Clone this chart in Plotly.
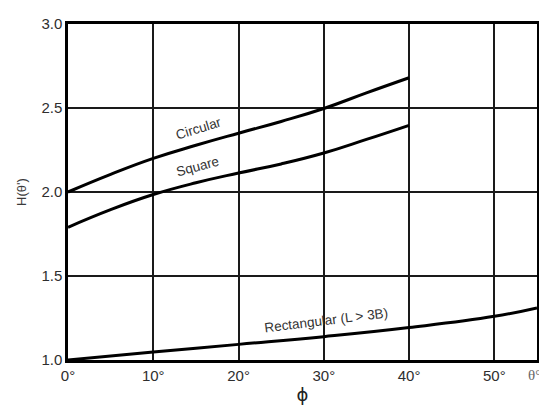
import plotly.graph_objects as go

# Data
phi = [0, 5, 10, 15, 20, 25, 30, 35, 40]
circular = [2.00, 2.105, 2.20, 2.278, 2.35, 2.42, 2.497, 2.59, 2.68]
square = [1.79, 1.895, 1.985, 2.055, 2.113, 2.167, 2.232, 2.313, 2.397]
phi_rect = [0, 10, 20, 30, 40, 50, 55]
rectangular = [1.00, 1.048, 1.093, 1.139, 1.193, 1.26, 1.31]

x_ticks = [0, 10, 20, 30, 40, 50]
x_ticklabels = ["0°", "10°", "20°", "30°", "40°", "50°"]
y_ticks = [1.0, 1.5, 2.0, 2.5, 3.0]

line_style = dict(color="black", width=3, shape="spline", smoothing=1.3)
fig = go.Figure()
fig.add_trace(go.Scatter(x=phi, y=circular, mode="lines", line=line_style, name="Circular"))
fig.add_trace(go.Scatter(x=phi, y=square, mode="lines", line=line_style, name="Square"))
fig.add_trace(go.Scatter(x=phi_rect, y=rectangular, mode="lines", line=line_style, name="Rectangular"))

font = dict(family="Liberation Sans, Arial, sans-serif", size=15, color="#2e2e2e")
lab_font = dict(family="Liberation Sans, Arial, sans-serif", size=13.5, color="#333")

fig.update_layout(
    width=539, height=408,
    margin=dict(l=60, r=7, t=7, b=56),
    paper_bgcolor="white", plot_bgcolor="white",
    showlegend=False,
    font=font,
    xaxis=dict(range=[0, 55], tickvals=x_ticks, ticktext=x_ticklabels,
               showgrid=True, gridcolor="#1a1a1a", gridwidth=1.5,
               showline=True, mirror=True, linecolor="black", linewidth=2.5,
               zeroline=False, ticks="", ticklen=0, tickfont=font,
               title=dict(text="ϕ", font=dict(family="DejaVu Sans", size=18, color="#222"), standoff=6)),
    yaxis=dict(range=[1, 3], tickvals=y_ticks, tickformat=".1f",
               showgrid=True, gridcolor="#1a1a1a", gridwidth=1.5,
               showline=True, mirror=True, linecolor="black", linewidth=2.5,
               zeroline=False, ticks="", ticklen=0, tickfont=font,
               title=dict(text="H(θ')", font=dict(family="Liberation Sans", size=13, color="#3a3a3a"), standoff=12)),
)

fig.add_annotation(x=55, y=1.0, xref="x", yref="y", text="θ°", showarrow=False,
                   xanchor="right", yshift=-15, xshift=6,
                   font=dict(family="Liberation Serif", size=15, color="#666"))
fig.add_annotation(x=15.3, y=2.38, text="Circular", showarrow=False, textangle=-17,
                   font=lab_font)
fig.add_annotation(x=15.2, y=2.15, text="Square", showarrow=False, textangle=-15,
                   font=lab_font)
fig.add_annotation(x=30.2, y=1.235, text="Rectangular (L > 3B)", showarrow=False, textangle=-7,
                   font=lab_font)

fig.write_html("out.html")
